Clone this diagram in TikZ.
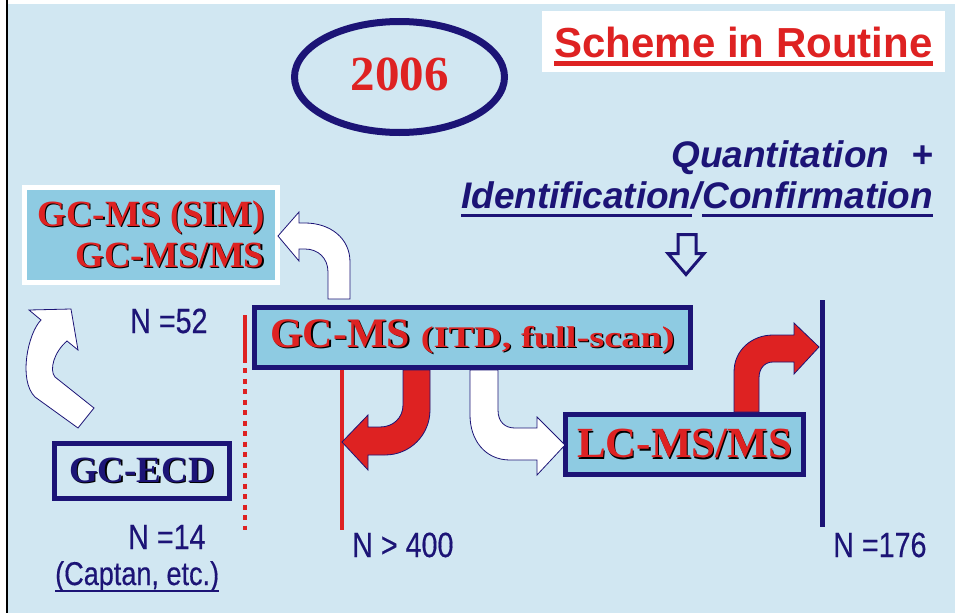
\documentclass[tikz,border=0pt]{standalone}
\usepackage{graphicx}
\usepackage{fontspec}
\setmainfont{Liberation Serif}
\setsansfont{Liberation Sans}
\newfontfamily\narrowsf[FakeStretch=0.82, FakeBold=0.4]{Liberation Sans}
\usetikzlibrary{positioning, shapes.geometric}

\definecolor{bgblue}{RGB}{209,231,242}
\definecolor{boxblue}{RGB}{142,203,226}
\definecolor{navyc}{RGB}{28,20,118}
\definecolor{redc}{RGB}{222,34,34}

% text with a small black drop shadow
\newcommand{\shadowed}[2]{\makebox[0pt][l]{\hspace{1.3pt}\raisebox{-1.3pt}{\color{black}#2}}\textcolor{#1}{#2}}

\begin{document}
\begin{tikzpicture}[x=1pt, y=-1pt,
  techbox/.style={draw=navyc, line width=5pt, fill=boxblue, inner sep=0pt},
  techfont/.style={font=\bfseries\rmfamily\fontsize{37}{41}\selectfont},
  count/.style={text=navyc, inner sep=0pt, anchor=base west, font=\narrowsf\fontsize{35}{40}\selectfont},
  query/.style={text=navyc, inner sep=0pt, font=\bfseries\itshape\sffamily\fontsize{37}{42}\selectfont},
  bendarrow/.style={draw=navyc, line width=0.8pt, line join=miter}
]
  \useasboundingbox (0,0) rectangle (955,613);
  \fill[bgblue] (8,4) rectangle (955,613);
  \draw[black, line width=2.5pt] (7,0) -- (7,613);

  % year and title
  \node[ellipse, draw=navyc, line width=7pt, minimum width=210pt, minimum height=111pt] (year) at (399.5,77) {};
  \node[text=redc, inner sep=0pt, font=\bfseries\rmfamily\fontsize{49}{54}\selectfont] (yeartext) at ([yshift=3pt]year.center) {2006};

  \node[fill=white, minimum width=403pt, minimum height=61pt, inner sep=0pt] (titlebox) at (743.5,41.5) {};
  \node[text=redc, inner sep=0pt, anchor=base, font=\bfseries\sffamily\fontsize{42}{48}\selectfont] (title) at (743.5,57.5) {Scheme in Routine};
  \draw[redc, line width=5pt] ([yshift=-6pt]title.base west) -- ([yshift=-6pt]title.base east);

  % goal of the analysis
  \node[query, anchor=base east] (quant) at (933,167) {Quantitation\hspace{22pt}+};
  \node[query, anchor=base east] (confirm) at (933,208) {Confirmation};
  \node[query, base left=0pt of confirm] (slash) {/};
  \node[query, base left=0pt of slash] (ident) {Identification};
  \draw[navyc, line width=3pt] ([yshift=-7pt]ident.base west) -- ([yshift=-7pt]ident.base east);
  \draw[navyc, line width=3pt] ([yshift=-7pt]confirm.base west) -- ([yshift=-7pt]confirm.base east);
  \draw[navyc, line width=3pt, line join=miter] (678,234.5) -- (696,234.5) -- (696,253.5) -- (704,253.5)
    -- (686,274.5) -- (668,253.5) -- (678,253.5) -- cycle;

  % techniques
  \node[techbox, draw=white, minimum width=253pt, minimum height=95pt, align=right, techfont] (sim) at (151,235)
    {\shadowed{redc}{GC-MS (SIM)}\\\shadowed{redc}{GC-MS/MS}};
  \node[techbox, minimum width=436pt, minimum height=60pt, font=\bfseries\rmfamily] (itd) at (472.5,337.5)
    {\shadowed{redc}{\fontsize{42}{46}\selectfont GC-MS \scalebox{1.28}[1]{\fontsize{30}{36}\selectfont(ITD, full-scan)}}\hspace{8pt}};
  \node[techbox, minimum width=238pt, minimum height=60pt, font=\bfseries\rmfamily\fontsize{43}{48}\selectfont] (lcms) at (684.5,444.5)
    {\shadowed{redc}{LC-MS/MS}};
  \node[techbox, fill=bgblue, minimum width=175pt, minimum height=55pt, techfont] (ecd) at (142,471)
    {\shadowed{navyc}{GC-ECD}};

  % limits
  \draw[redc, line width=4pt] (245,315) -- (245,363);
  \draw[redc, line width=4pt, dash pattern=on 5pt off 5.5pt] (245,368) -- (245,530);
  \draw[redc, line width=4pt] (342,370) -- (342,530);
  \draw[navyc, line width=5pt] (822,300) -- (822,527);

  % bent block arrows
  \draw[bendarrow, fill=white] (328,299) -- (328,272) .. controls (328,258) and (318,249) .. (305,249)
    -- (299,249) -- (299,261) -- (278,236) -- (299,212) -- (299,223) -- (305,223)
    .. controls (330,223) and (350,238) .. (350,262) -- (350,299) -- cycle;
  \draw[bendarrow, fill=redc] (403,370) -- (403,405) .. controls (403,418) and (393,427) .. (380,427)
    -- (368,427) -- (368,415) -- (342,442) -- (368,470) -- (368,455) -- (385,455)
    .. controls (410,455) and (430,435) .. (430,410) -- (430,370) -- cycle;
  \draw[bendarrow, fill=white] (470,370) -- (470,415) .. controls (470,440) and (485,460) .. (510,460)
    -- (537,460) -- (537,475) -- (565,445) -- (537,417) -- (537,428) -- (515,428)
    .. controls (505,428) and (498,422) .. (498,410) -- (498,370) -- cycle;
  \draw[bendarrow, fill=redc] (734,412) -- (734,372) .. controls (734,350) and (752,335) .. (773,335)
    -- (794,335) -- (794,323) -- (819,347) -- (794,374) -- (794,362) -- (773,362)
    .. controls (765,362) and (759,368) .. (759,378) -- (759,412) -- cycle;
  \draw[bendarrow, fill=white] (78,428) -- (94,408) -- (55,377) .. controls (49,370) and (54,352) .. (67,341)
    -- (78,350) -- (71,309) -- (29,310) -- (41,320) .. controls (28,333) and (18,380) .. (35,397) -- cycle;

  % sample counts
  \node[count] (n52) at (130,333) {N =52};
  \node[count] (n14) at (128,549) {N =14};
  \node[count, font=\narrowsf\fontsize{33}{38}\selectfont] (captan) at (55,585) {(Captan, etc.)};
  \draw[navyc, line width=2.5pt] ([yshift=-6pt]captan.base west) -- ([yshift=-6pt]captan.base east);
  \node[count] (n400) at (352,557) {N > 400};
  \node[count] (n176) at (833,557) {N =176};
\end{tikzpicture}
\end{document}
